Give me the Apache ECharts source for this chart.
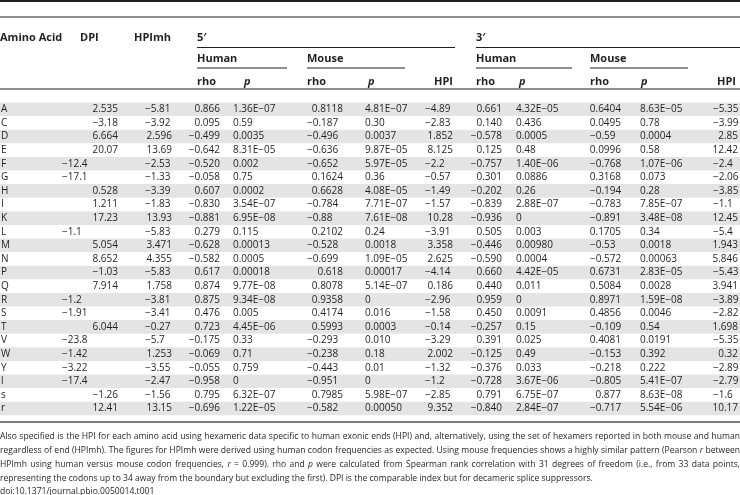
<!DOCTYPE html>
<html><head><meta charset="utf-8">
<script src="https://cdn.jsdelivr.net/npm/echarts@6/dist/echarts.min.js"></script>
<style>html,body{margin:0;padding:0;background:#fff}#c{width:740px;height:495px}</style>
</head><body><div id="c"></div>
<script>
// ---------------- data ----------------
const aminoAcids = ['A','C','D','E','F','G','H','I','K','L','M','N','P','Q','R','S','T','V','W','Y','l','s','r'];
const dpi   = ['2.535','−3.18','6.664','20.07','−12.4','−17.1','0.528','1.211','17.23','−1.1','5.054','8.652','−1.03','7.914','−1.2','−1.91','6.044','−23.8','−1.42','−3.22','−17.4','−1.26','12.41'];
const hpimh = ['−5.81','−3.92','2.596','13.69','−2.53','−1.33','−3.39','−1.83','13.93','−5.83','3.471','4.355','−5.83','1.758','−3.81','−3.41','−0.27','−5.7','1.253','−3.55','−2.47','−1.56','13.15'];
const human5Rho = ['0.866','0.095','−0.499','−0.642','−0.520','−0.058','0.607','−0.830','−0.881','0.279','−0.628','−0.582','0.617','0.874','0.875','0.476','0.723','−0.175','−0.069','−0.055','−0.958','0.795','−0.696'];
const human5P   = ['1.36E−07','0.59','0.0035','8.31E−05','0.002','0.75','0.0002','3.54E−07','6.95E−08','0.115','0.00013','0.0005','0.00018','9.77E−08','9.34E−08','0.005','4.45E−06','0.33','0.71','0.759','0','6.32E−07','1.22E−05'];
const mouse5Rho = ['0.8118','−0.187','−0.496','−0.636','−0.652','0.1624','0.6628','−0.784','−0.88','0.2102','−0.528','−0.699','0.618','0.8078','0.9358','0.4174','0.5993','−0.293','−0.238','−0.443','−0.951','0.7985','−0.582'];
const mouse5P   = ['4.81E−07','0.30','0.0037','9.87E−05','5.97E−05','0.36','4.08E−05','7.71E−07','7.61E−08','0.24','0.0018','1.09E−05','0.00017','5.14E−07','0','0.016','0.0003','0.010','0.18','0.01','0','5.98E−07','0.00050'];
const hpi5      = ['−4.89','−2.83','1.852','8.125','−2.2','−0.57','−1.49','−1.57','10.28','−3.91','3.358','2.625','−4.14','0.186','−2.96','−1.58','−0.14','−3.29','2.002','−1.32','−1.2','−2.85','9.352'];
const human3Rho = ['0.661','0.140','−0.578','0.125','−0.757','0.301','−0.202','−0.839','−0.936','0.505','−0.446','−0.590','0.660','0.440','0.959','0.450','−0.257','0.391','−0.125','−0.376','−0.728','0.791','−0.840'];
const human3P   = ['4.32E−05','0.436','0.0005','0.48','1.40E−06','0.0886','0.26','2.88E−07','0','0.003','0.00980','0.0004','4.42E−05','0.011','0','0.0091','0.15','0.025','0.49','0.033','3.67E−06','6.75E−07','2.84E−07'];
const mouse3Rho = ['0.6404','0.0495','−0.59','0.0996','−0.768','0.3168','−0.194','−0.783','−0.891','0.1705','−0.53','−0.572','0.6731','0.5084','0.8971','0.4856','−0.109','0.4081','−0.153','−0.218','−0.805','0.877','−0.717'];
const mouse3P   = ['8.63E−05','0.78','0.0004','0.58','1.07E−06','0.073','0.28','7.85E−07','3.48E−08','0.34','0.0018','0.00063','2.83E−05','0.0028','1.59E−08','0.0046','0.54','0.0191','0.392','0.222','5.41E−07','8.63E−08','5.54E−06'];
const hpi3      = ['−5.35','−3.99','2.85','12.42','−2.4','−2.06','−3.85','−1.1','12.45','−5.4','1.943','5.846','−5.43','3.941','−3.89','−2.82','1.698','−5.35','0.32','−2.89','−2.79','−1.6','10.17'];

const footLines = [
  'Also specified is the HPI for each amino acid using hexameric data specific to human exonic ends (HPI) and, alternatively, using the set of hexamers reported in both mouse and human',
  'regardless of end (HPImh). The figures for HPImh were derived using human codon frequencies as expected. Using mouse frequencies shows a highly similar pattern (Pearson _r_ between',
  'HPImh using human versus mouse codon frequencies, _r_ = 0.999). rho and _p_ were calculated from Spearman rank correlation with 31 degrees of freedom (i.e., from 33 data points,',
  'representing the codons up to 34 away from the boundary but excluding the first). DPI is the comparable index but for decameric splice suppressors.',
  'doi:10.1371/journal.pbio.0050014.t001'
];

// ---------------- layout / style ----------------
const FONT = "'Open Sans', 'Noto Sans', sans-serif";
const INK = '#231f20';
const BODY_FS = 10;
const ROW_TOP = 102.5, ROW_H = 13.6;
const dpiLeftRows = ['F','G','L','R','S','V','W','Y','l'];

const columns = [
  {values: dpi,       mode: 'dpi',   l: 62,  r: 118},
  {values: hpimh,     mode: 'sign',  l: 145, r: 172},
  {values: human5Rho, mode: 'right', r: 220},
  {values: human5P,   mode: 'left',  l: 233},
  {values: mouse5Rho, mode: 'sign',  l: 307, r: 343},
  {values: mouse5P,   mode: 'left',  l: 365},
  {values: hpi5,      mode: 'sign',  l: 425, r: 453},
  {values: human3Rho, mode: 'right', r: 502},
  {values: human3P,   mode: 'left',  l: 516},
  {values: mouse3Rho, mode: 'sign',  l: 590, r: 621},
  {values: mouse3P,   mode: 'left',  l: 640},
  {values: hpi3,      mode: 'sign',  l: 713, r: 738}
];

const series = columns.map(col => ({
  type: 'custom',
  coordinateSystem: 'cartesian2d',
  silent: true,
  data: aminoAcids.map((a, i) => [0, i]),
  renderItem: function (params, api) {
    const i = params.dataIndex;
    const txt = col.values[i];
    const neg = txt.charAt(0) === '−';
    let align = 'left', x = col.l;
    if (col.mode === 'right') { align = 'right'; x = col.r; }
    else if (col.mode === 'sign' && !neg) { align = 'right'; x = col.r; }
    else if (col.mode === 'dpi' && dpiLeftRows.indexOf(aminoAcids[i]) < 0) { align = 'right'; x = col.r; }
    const p = api.coord([x, api.value(1)]);
    return {
      type: 'text', x: p[0], y: p[1],
      style: {text: txt, align: align, verticalAlign: 'middle', fontSize: BODY_FS, fontFamily: FONT, fill: INK}
    };
  }
}));

// header graphics
const H_FS = 11;
function htxt(t, x, y, italic) {
  return {type: 'text', x: x, y: y, silent: true,
    style: {text: t, align: 'left', verticalAlign: 'middle', fontSize: H_FS, fontWeight: 'bold',
      fontStyle: italic ? 'italic' : 'normal', fontFamily: FONT, fill: INK}};
}
function hline(x1, x2, y, w, c) {
  return {type: 'line', silent: true, shape: {x1: x1, y1: y, x2: x2, y2: y}, style: {stroke: c || INK, lineWidth: w || 1}};
}
const graphics = [
  hline(0, 740, 1, 2),
  hline(0, 740, 17, 1.2),
  htxt('Amino Acid', 0, 38), htxt('DPI', 80, 38), htxt('HPImh', 134, 38),
  htxt('5′', 197, 38), htxt('3′', 476, 38),
  hline(197, 455, 47.5, 1), hline(476, 740, 47.5, 1),
  htxt('Human', 197, 59), htxt('Mouse', 307, 59), htxt('Human', 476, 59), htxt('Mouse', 590, 59),
  hline(197, 287, 68, 1), hline(307, 405, 68, 1), hline(476, 572, 68, 1), hline(590, 688, 68, 1),
  htxt('rho', 197, 82), htxt('p', 244, 82, true), htxt('rho', 307, 82), htxt('p', 368, 82, true), htxt('HPI', 434, 82),
  htxt('rho', 476, 82), htxt('p', 519, 82, true), htxt('rho', 590, 82), htxt('p', 641, 82, true), htxt('HPI', 717, 82),
  hline(0, 740, 89, 1),
  hline(0, 740, 422, 2, '#7a7a7a')
];

// footnote with justification
const ctx = document.createElement('canvas').getContext('2d');
function measure(t, italic, fs) { ctx.font = (italic ? 'italic ' : '') + fs + 'px ' + FONT; return ctx.measureText(t).width; }
function tokens(line) { return line.split(' ').map(w => { const it = /^_.*_$/.test(w); return {t: it ? w.slice(1, -1) : w, it: it}; }); }
let base = 8, maxW = 0;
for (let k = 0; k < 3; k++) {
  const tk = tokens(footLines[k]);
  const ww = tk.reduce((s, o) => s + measure(o.t, o.it, base), 0) + (tk.length - 1) * measure(' ', false, base);
  maxW = Math.max(maxW, ww);
}
const FOOT_FS = base * 738 / maxW;
const FOOT_Y0 = 437, FOOT_LH = 13.75;
footLines.forEach((line, k) => {
  const tk = tokens(line);
  const widths = tk.map(o => measure(o.t, o.it, FOOT_FS));
  const total = widths.reduce((a, b) => a + b, 0);
  const justify = k < 3;
  const gap = justify ? (740 - total) / (tk.length - 1) : measure(' ', false, FOOT_FS);
  let x = 0;
  tk.forEach((o, j) => {
    graphics.push({type: 'text', x: x, y: FOOT_Y0 + k * FOOT_LH, silent: true,
      style: {text: o.t, align: 'left', verticalAlign: 'middle', fontSize: FOOT_FS,
        fontStyle: o.it ? 'italic' : 'normal', fontFamily: FONT, fill: INK}});
    x += widths[j] + gap;
  });
});

const chart = echarts.init(document.getElementById('c'), null, {renderer: 'canvas'});
chart.setOption({
  animation: false,
  backgroundColor: '#ffffff',
  grid: {left: 0, right: 0, top: ROW_TOP, height: ROW_H * aminoAcids.length, containLabel: false, outerBoundsMode: 'none'},
  xAxis: {type: 'value', min: 0, max: 740, show: false},
  yAxis: {
    type: 'category', data: aminoAcids, inverse: true,
    axisLine: {show: false}, axisTick: {show: false}, splitLine: {show: false},
    axisLabel: {inside: true, margin: 1, align: 'left', fontSize: BODY_FS, fontFamily: FONT, color: INK},
    splitArea: {show: true, areaStyle: {color: ['#e4e4e4', 'rgba(255,255,255,0)']}}
  },
  graphic: graphics,
  series: series
});
</script>
</body></html>
